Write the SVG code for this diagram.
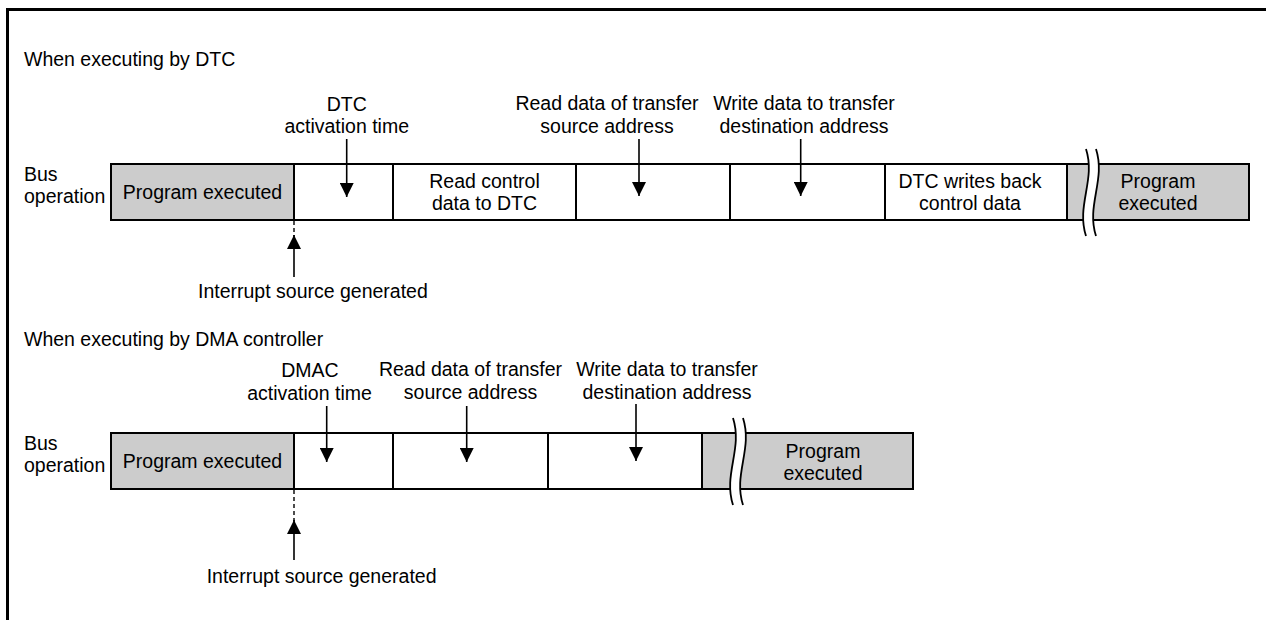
<svg xmlns="http://www.w3.org/2000/svg" width="1266" height="620" viewBox="0 0 1266 620">
  <style>
    .t { font-family: "Liberation Sans", Arial, Helvetica, sans-serif; font-size: 19.5px; fill: #000; }
    .m { text-anchor: middle; }
    .cell { fill: #fff; stroke: #000; stroke-width: 2; }
    .gray { fill: #cccccc; }
    .arr { stroke: #000; stroke-width: 1.6; fill: none; }
    .dash { stroke: #000; stroke-width: 1.4; stroke-dasharray: 4 3; fill: none; }
    .brk { stroke: #000; stroke-width: 1.8; fill: none; }
    .frame { stroke: #000; stroke-width: 3; fill: none; }
  </style>
  <defs>
    <marker id="head" markerUnits="userSpaceOnUse" markerWidth="14" markerHeight="14" viewBox="0 0 14 14" refX="14" refY="7" orient="auto">
      <path d="M0,0 L14,7 L0,14 Z" fill="#000"/>
    </marker>
  </defs>

  <rect width="1266" height="620" fill="#fff"/>
  <!-- page frame -->
  <path class="frame" d="M7.5,620 V9.5 H1266"/>

  <!-- ===== DTC timeline ===== -->
  <text class="t" x="24" y="66">When executing by DTC</text>
  <g id="dtc-bus-label">
    <text class="t" x="24" y="181">Bus</text>
    <text class="t" x="24" y="203">operation</text>
  </g>

  <g id="dtc-prog-before">
    <rect class="cell gray" x="111" y="164" width="183" height="56"/>
    <text class="t m" x="202.5" y="199">Program executed</text>
  </g>
  <g id="dtc-activation">
    <rect class="cell" x="294" y="164" width="99" height="56"/>
    <text class="t m" x="346.7" y="111">DTC</text>
    <text class="t m" x="346.7" y="133">activation time</text>
  </g>
  <g id="dtc-read-control">
    <rect class="cell" x="393" y="164" width="183" height="56"/>
    <text class="t m" x="484.5" y="188">Read control</text>
    <text class="t m" x="484.5" y="210">data to DTC</text>
  </g>
  <g id="dtc-read-data">
    <rect class="cell" x="576" y="164" width="154" height="56"/>
    <text class="t m" x="607" y="110">Read data of transfer</text>
    <text class="t m" x="607" y="132.5">source address</text>
  </g>
  <g id="dtc-write-data">
    <rect class="cell" x="730" y="164" width="155" height="56"/>
    <text class="t m" x="804" y="110">Write data to transfer</text>
    <text class="t m" x="804" y="132.5">destination address</text>
  </g>
  <g id="dtc-writeback">
    <rect class="cell" x="885" y="164" width="182" height="56"/>
    <text class="t m" x="970" y="188">DTC writes back</text>
    <text class="t m" x="970" y="210">control data</text>
  </g>
  <g id="dtc-prog-after">
    <rect class="cell gray" x="1067" y="164" width="182" height="56"/>
    <path d="M1086,149 C1096,180 1076,205 1086,236 L1096,236 C1086,205 1106,180 1096,149 Z" fill="#fff"/>
    <path class="brk" d="M1086,149 C1096,180 1076,205 1086,236"/>
    <path class="brk" d="M1096,149 C1106,180 1086,205 1096,236"/>
    <text class="t m" x="1158" y="188">Program</text>
    <text class="t m" x="1158" y="210">executed</text>
  </g>
  <g id="dtc-interrupt">
    <text class="t" x="198" y="298">Interrupt source generated</text>
  </g>

  <!-- ===== DMA controller timeline ===== -->
  <text class="t" x="24" y="346">When executing by DMA controller</text>
  <g id="dma-bus-label">
    <text class="t" x="24" y="450">Bus</text>
    <text class="t" x="24" y="472">operation</text>
  </g>

  <g id="dma-prog-before">
    <rect class="cell gray" x="111" y="433" width="183" height="56"/>
    <text class="t m" x="202.5" y="468">Program executed</text>
  </g>
  <g id="dma-activation">
    <rect class="cell" x="294" y="433" width="99" height="56"/>
    <text class="t m" x="310" y="377">DMAC</text>
    <text class="t m" x="309.5" y="400">activation time</text>
  </g>
  <g id="dma-read-data">
    <rect class="cell" x="393" y="433" width="155" height="56"/>
    <text class="t m" x="470.5" y="376">Read data of transfer</text>
    <text class="t m" x="470.5" y="398.5">source address</text>
  </g>
  <g id="dma-write-data">
    <rect class="cell" x="548" y="433" width="154" height="56"/>
    <text class="t m" x="667" y="376">Write data to transfer</text>
    <text class="t m" x="667" y="398.5">destination address</text>
  </g>
  <g id="dma-prog-after">
    <rect class="cell gray" x="702" y="433" width="211" height="56"/>
    <path d="M733,418 C743,449 723,474 733,505 L743,505 C733,474 753,449 743,418 Z" fill="#fff"/>
    <path class="brk" d="M733,418 C743,449 723,474 733,505"/>
    <path class="brk" d="M743,418 C753,449 733,474 743,505"/>
    <text class="t m" x="823" y="457.5">Program</text>
    <text class="t m" x="823" y="479.5">executed</text>
  </g>
  <g id="dma-interrupt">
    <text class="t" x="206.7" y="583">Interrupt source generated</text>
  </g>

  <!-- connectors -->
  <g id="connectors">
    <line class="arr" x1="346.7" y1="139" x2="346.7" y2="197" marker-end="url(#head)"/>
    <line class="arr" x1="639" y1="139" x2="639" y2="196" marker-end="url(#head)"/>
    <line class="arr" x1="800.7" y1="139" x2="800.7" y2="196" marker-end="url(#head)"/>
    <line class="dash" x1="294" y1="221" x2="294" y2="236"/>
    <line class="arr" x1="294" y1="277" x2="294" y2="235" marker-end="url(#head)"/>

    <line class="arr" x1="326.7" y1="406" x2="326.7" y2="462" marker-end="url(#head)"/>
    <line class="arr" x1="466.7" y1="406" x2="466.7" y2="462" marker-end="url(#head)"/>
    <line class="arr" x1="636" y1="404" x2="636" y2="461" marker-end="url(#head)"/>
    <line class="dash" x1="294" y1="490" x2="294" y2="521"/>
    <line class="arr" x1="294" y1="560" x2="294" y2="520" marker-end="url(#head)"/>
  </g>
</svg>
